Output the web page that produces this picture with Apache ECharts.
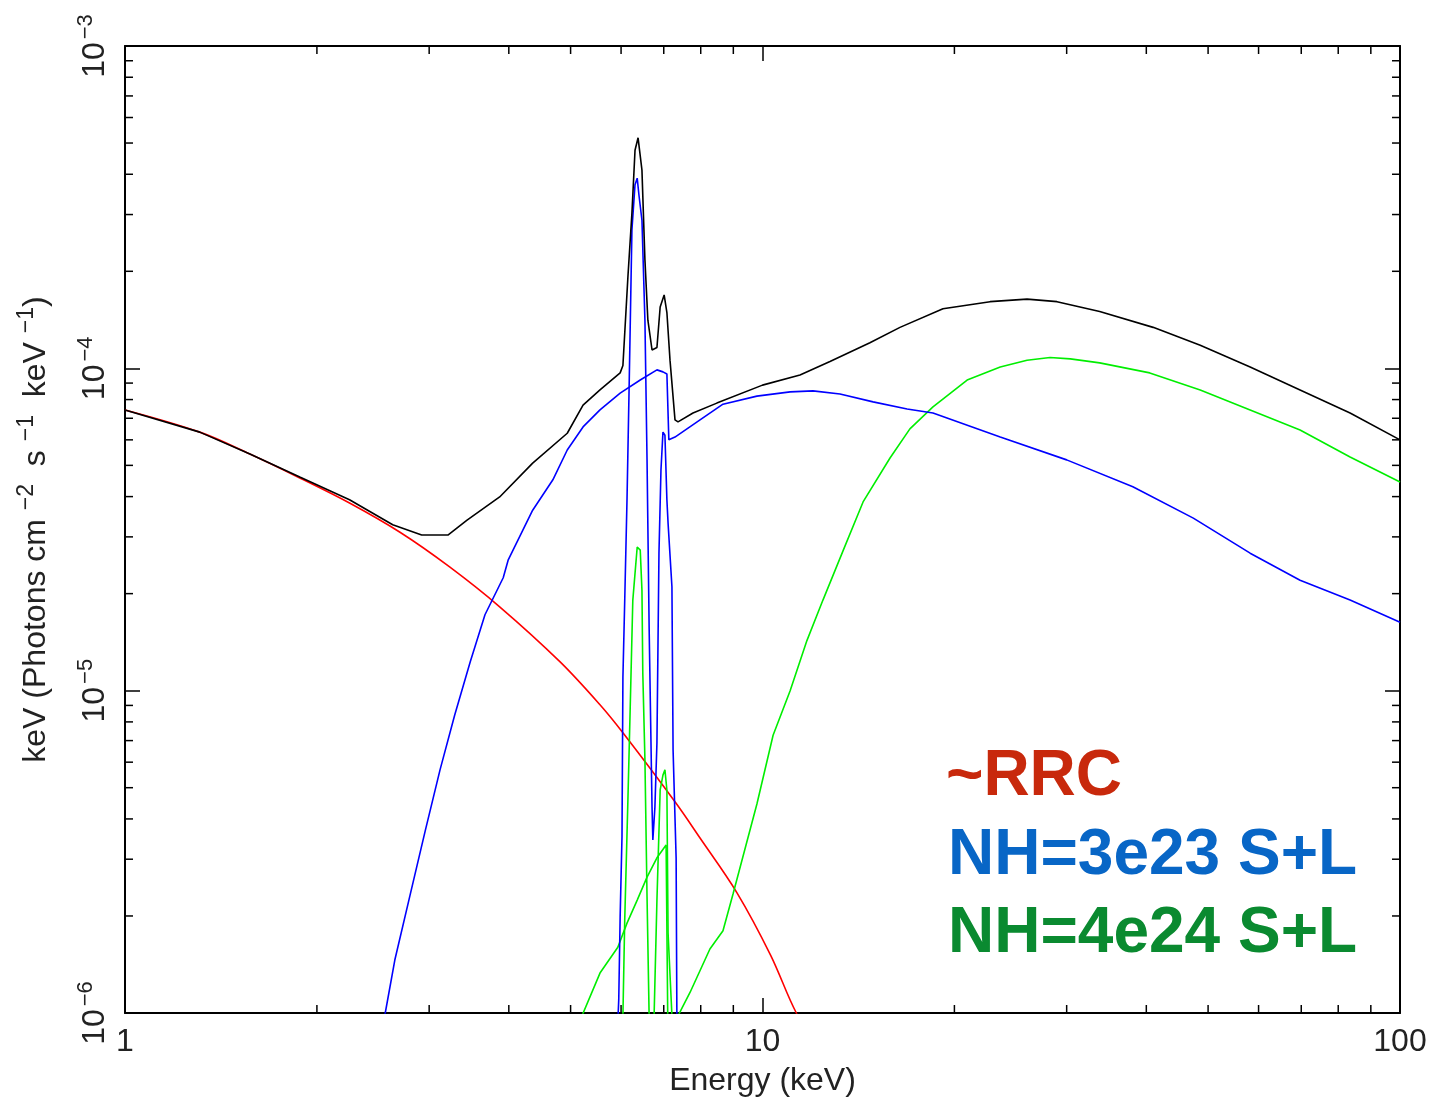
<!DOCTYPE html>
<html>
<head>
<meta charset="utf-8">
<script src="https://cdn.jsdelivr.net/npm/echarts@6/dist/echarts.min.js"></script>
<style>
  html, body { margin: 0; padding: 0; background: #fff; }
  #chart { width: 1438px; height: 1098px; }
</style>
</head>
<body>
<div id="chart"></div>
<script>
// ---- data (energy in keV, flux in keV Photons cm^-2 s^-1 keV^-1) ----
const rrcEnergy = [1.00, 1.31, 1.57, 1.88, 2.25, 2.70, 3.23, 3.87, 4.81, 5.56, 6.04, 7.29, 7.98, 9.12, 10.3, 11.3, 12.3];
const rrcFlux = [7.43e-5, 6.34e-5, 5.42e-5, 4.57e-5, 3.82e-5, 3.10e-5, 2.42e-5, 1.82e-5, 1.23e-5, 9.04e-6, 7.40e-6, 4.52e-6, 3.49e-6, 2.36e-6, 1.51e-6, 1.00e-6, 7.7e-7];

const totalEnergy = [1.00, 1.31, 1.57, 1.88, 2.25, 2.63, 2.92, 3.21, 3.44, 3.87, 4.36, 4.94, 5.23, 5.56, 5.98, 6.04, 6.15, 6.24, 6.31, 6.38, 6.47, 6.54, 6.61, 6.71, 6.83, 6.91, 7.01, 7.08, 7.16, 7.29, 7.37, 7.78, 8.48, 10.0, 11.45, 12.76, 14.74, 16.43, 19.19, 22.75, 26.0, 28.97, 33.8, 41.0, 48.6, 58.2, 69.7, 83.5, 100];
const totalFlux = [7.43e-5, 6.34e-5, 5.42e-5, 4.60e-5, 3.91e-5, 3.27e-5, 3.04e-5, 3.04e-5, 3.38e-5, 3.99e-5, 5.08e-5, 6.29e-5, 7.69e-5, 8.57e-5, 9.68e-5, 1.02e-4, 1.92e-4, 3.03e-4, 4.75e-4, 5.19e-4, 4.12e-4, 2.17e-4, 1.41e-4, 1.14e-4, 1.16e-4, 1.55e-4, 1.69e-4, 1.49e-4, 1.06e-4, 6.92e-5, 6.82e-5, 7.27e-5, 7.80e-5, 8.87e-5, 9.53e-5, 1.05e-4, 1.20e-4, 1.34e-4, 1.53e-4, 1.61e-4, 1.64e-4, 1.61e-4, 1.50e-4, 1.34e-4, 1.18e-4, 1.01e-4, 8.57e-5, 7.27e-5, 6.00e-5];

const nh23ContEnergy = [2.51, 2.56, 2.65, 2.80, 2.96, 3.12, 3.29, 3.48, 3.67, 3.92, 3.99, 4.36, 4.69, 4.94, 5.23, 5.56, 5.98, 6.43, 6.83, 6.98, 7.08, 7.13, 7.29, 7.98, 8.67, 9.80, 11.05, 12.0, 13.23, 14.91, 16.86, 18.51, 23.6, 30.0, 38.1, 47.4, 58.2, 69.7, 83.5, 100];
const nh23ContFlux = [8.9e-7, 1.0e-6, 1.46e-6, 2.32e-6, 3.70e-6, 5.68e-6, 8.40e-6, 1.23e-5, 1.72e-5, 2.24e-5, 2.54e-5, 3.63e-5, 4.51e-5, 5.58e-5, 6.58e-5, 7.43e-5, 8.38e-5, 9.20e-5, 9.89e-5, 9.75e-5, 9.6e-5, 6.0e-5, 6.12e-5, 6.92e-5, 7.74e-5, 8.20e-5, 8.45e-5, 8.51e-5, 8.32e-5, 7.87e-5, 7.48e-5, 7.27e-5, 6.12e-5, 5.20e-5, 4.29e-5, 3.43e-5, 2.67e-5, 2.20e-5, 1.91e-5, 1.63e-5];

const nh23LineEnergy = [5.91, 5.95, 5.98, 6.02, 6.04, 6.08, 6.13, 6.18, 6.24, 6.31, 6.36, 6.40, 6.47, 6.54, 6.59, 6.64, 6.71, 6.73, 6.78, 6.83, 6.88, 6.93, 6.98, 7.03, 7.08, 7.11, 7.21, 7.24, 7.32, 7.34, 7.40];
const nh23LineFlux = [8e-7, 1.10e-6, 1.99e-6, 3.52e-6, 1.10e-5, 1.91e-5, 3.91e-5, 9.20e-5, 2.69e-4, 3.71e-4, 3.89e-4, 3.45e-4, 2.88e-4, 1.41e-4, 5.20e-5, 1.57e-5, 4.35e-6, 3.44e-6, 4.35e-6, 6.89e-6, 2.67e-5, 4.84e-5, 6.34e-5, 6.20e-5, 3.91e-5, 3.31e-5, 2.10e-5, 6.54e-6, 3.03e-6, 9.8e-7, 7e-7];

const nh24ContEnergy = [5.14, 5.21, 5.56, 5.93, 6.13, 6.36, 6.59, 6.83, 7.06, 7.11, 7.16, 7.37, 7.70, 8.27, 8.67, 8.99, 9.80, 10.39, 11.05, 11.74, 12.44, 13.37, 14.38, 15.85, 17.03, 18.51, 20.94, 23.6, 26.0, 28.25, 30.4, 33.8, 40.5, 48.6, 58.2, 69.7, 83.5, 100];
const nh24ContFlux = [8.9e-7, 9.8e-7, 1.33e-6, 1.60e-6, 1.90e-6, 2.24e-6, 2.64e-6, 3.03e-6, 3.32e-6, 7.6e-7, 5e-7, 9.8e-7, 1.16e-6, 1.58e-6, 1.80e-6, 2.34e-6, 4.45e-6, 7.27e-6, 1.00e-5, 1.43e-5, 1.91e-5, 2.71e-5, 3.85e-5, 5.27e-5, 6.49e-5, 7.59e-5, 9.20e-5, 1.01e-4, 1.06e-4, 1.08e-4, 1.07e-4, 1.04e-4, 9.68e-5, 8.57e-5, 7.43e-5, 6.44e-5, 5.31e-5, 4.44e-5];

const nh24LineEnergy = [6.00, 6.04, 6.08, 6.15, 6.20, 6.26, 6.36, 6.43, 6.47, 6.49, 6.54, 6.59, 6.64, 6.69, 6.76, 6.83, 6.91, 6.98, 7.03, 7.08, 7.11, 7.21, 7.25];
const nh24LineFlux = [8e-7, 9.8e-7, 1.95e-6, 4.58e-6, 8.71e-6, 1.91e-5, 2.79e-5, 2.73e-5, 2.05e-5, 1.13e-5, 6.10e-6, 2.29e-6, 9.8e-7, 7e-7, 9.8e-7, 2.24e-6, 4.92e-6, 5.47e-6, 5.68e-6, 4.92e-6, 1.77e-6, 9.8e-7, 7e-7];

// axis ranges and tick values
const xRange = [1, 100];
const yRange = [1e-6, 1e-3];
const xMinorTicks = [2, 3, 4, 5, 6, 7, 8, 9, 20, 30, 40, 50, 60, 70, 80, 90];
const yMinorTicks = [2e-6, 3e-6, 4e-6, 5e-6, 6e-6, 7e-6, 8e-6, 9e-6,
                     2e-5, 3e-5, 4e-5, 5e-5, 6e-5, 7e-5, 8e-5, 9e-5,
                     2e-4, 3e-4, 4e-4, 5e-4, 6e-4, 7e-4, 8e-4, 9e-4];
const legendLines = ['~RRC', 'NH=3e23 S+L', 'NH=4e24 S+L'];

// ---- chart ----
const zip = (xs, ys) => xs.map((x, i) => [x, ys[i]]);
const FONT = '"Liberation Sans", Arial, sans-serif';
const TXT = '#222';

const chart = echarts.init(document.getElementById('chart'), null, { renderer: 'canvas' });

function lineSeries(name, xs, ys, color, smooth) {
  return {
    name, type: 'line', data: zip(xs, ys),
    showSymbol: false, symbol: 'none', smooth: smooth || false, clip: true,
    lineStyle: { color, width: 1.6 }, silent: true, z: 3
  };
}

const MINOR = 8;
const tickStyle = { stroke: '#000', lineWidth: 1.5 };

const xAxisCommon = {
  type: 'log', logBase: 10, min: xRange[0], max: xRange[1], splitNumber: 2,
  axisLine: { show: true, onZero: false, lineStyle: { color: '#000', width: 2 } },
  axisTick: { show: true, inside: true, length: 15, lineStyle: { color: '#000', width: 1.5 } },
  splitLine: { show: false }, minorTick: { show: false }, minorSplitLine: { show: false }
};
const yAxisCommon = {
  type: 'log', logBase: 10, min: yRange[0], max: yRange[1], splitNumber: 3,
  axisLine: { show: true, onZero: false, lineStyle: { color: '#000', width: 2 } },
  axisTick: { show: true, inside: true, length: 15, lineStyle: { color: '#000', width: 1.5 } },
  splitLine: { show: false }, minorTick: { show: false }, minorSplitLine: { show: false }
};

const option = {
  animation: false,
  backgroundColor: '#ffffff',
  grid: { left: 125, right: 38, top: 46, bottom: 85, containLabel: false, outerBoundsMode: 'none' },
  xAxis: [
    Object.assign({}, xAxisCommon, {
      position: 'bottom',
      axisLabel: {
        show: true, margin: 13, fontSize: 32, color: TXT, fontFamily: FONT,
        formatter: v => String(Math.round(v))
      },
      name: 'Energy (keV)', nameLocation: 'middle', nameGap: 52,
      nameTextStyle: { fontSize: 32, color: TXT, fontFamily: FONT }
    }),
    Object.assign({}, xAxisCommon, { position: 'top', axisLabel: { show: false } })
  ],
  yAxis: [
    Object.assign({}, yAxisCommon, {
      position: 'left',
      axisLabel: {
        show: true, rotate: 90, margin: 10, color: TXT, fontFamily: FONT, fontSize: 32,
        formatter: v => '{b|10}{s|\u2212' + Math.abs(Math.round(Math.log10(v))) + '}',
        rich: {
          b: { fontSize: 32, lineHeight: 40, color: TXT, fontFamily: FONT },
          s: { fontSize: 22, lineHeight: 20, verticalAlign: 'top', color: TXT, fontFamily: FONT, padding: [0, 0, 0, 3] }
        }
      },
      name: 'keV (Photons cm {s|\u22122}  s {s|\u22121}  keV {s|\u22121})',
      nameLocation: 'middle', nameRotate: 90, nameGap: 68,
      nameTextStyle: {
        fontSize: 32, color: TXT, fontFamily: FONT, lineHeight: 42,
        rich: { s: { fontSize: 23, lineHeight: 18, verticalAlign: 'top', color: TXT, fontFamily: FONT } }
      }
    }),
    Object.assign({}, yAxisCommon, { position: 'right', axisLabel: { show: false } })
  ],
  series: [
    lineSeries('~RRC', rrcEnergy, rrcFlux, '#ff0000', 0.35),
    lineSeries('NH=4e24 continuum', nh24ContEnergy, nh24ContFlux, '#00ee00'),
    lineSeries('NH=4e24 lines', nh24LineEnergy, nh24LineFlux, '#00ee00'),
    lineSeries('NH=3e23 continuum', nh23ContEnergy, nh23ContFlux, '#0000ff'),
    lineSeries('NH=3e23 lines', nh23LineEnergy, nh23LineFlux, '#0000ff'),
    lineSeries('Total', totalEnergy, totalFlux, '#000000'),
    {
      name: 'x minor ticks', type: 'custom', silent: true, clip: false, z: 5,
      data: xMinorTicks.map(e => [e, yRange[0]]),
      renderItem: (params, api) => {
        const e = api.value(0);
        const b = api.coord([e, yRange[0]]);
        const t = api.coord([e, yRange[1]]);
        return { type: 'group', children: [
          { type: 'line', shape: { x1: b[0], y1: b[1], x2: b[0], y2: b[1] - MINOR }, style: tickStyle },
          { type: 'line', shape: { x1: t[0], y1: t[1], x2: t[0], y2: t[1] + MINOR }, style: tickStyle }
        ] };
      }
    },
    {
      name: 'y minor ticks', type: 'custom', silent: true, clip: false, z: 5,
      data: yMinorTicks.map(v => [xRange[0], v]),
      renderItem: (params, api) => {
        const v = api.value(1);
        const l = api.coord([xRange[0], v]);
        const r = api.coord([xRange[1], v]);
        return { type: 'group', children: [
          { type: 'line', shape: { x1: l[0], y1: l[1], x2: l[0] + MINOR, y2: l[1] }, style: tickStyle },
          { type: 'line', shape: { x1: r[0], y1: r[1], x2: r[0] - MINOR, y2: r[1] }, style: tickStyle }
        ] };
      }
    }
  ],
  graphic: [
    { type: 'text', x: 946, y: 777, z: 10,
      style: { text: legendLines[0], fill: '#c8290c', font: 'bold 64px ' + FONT, verticalAlign: 'middle' } },
    { type: 'text', x: 948, y: 856, z: 10,
      style: { text: legendLines[1], fill: '#0866c6', font: 'bold 64px ' + FONT, verticalAlign: 'middle' } },
    { type: 'text', x: 948, y: 934, z: 10,
      style: { text: legendLines[2], fill: '#0a8a30', font: 'bold 64px ' + FONT, verticalAlign: 'middle' } }
  ]
};

chart.setOption(option);
</script>
</body>
</html>
